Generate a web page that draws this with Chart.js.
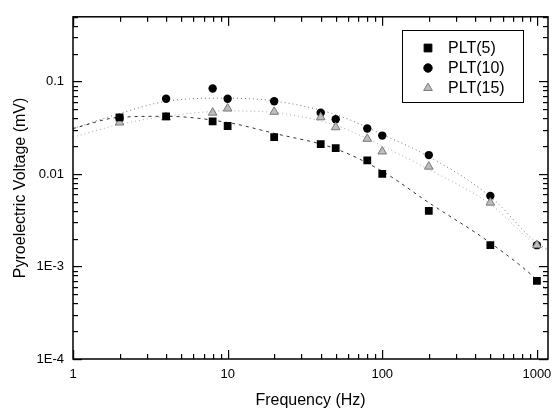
<!DOCTYPE html>
<html>
<head>
<meta charset="utf-8">
<script src="https://cdn.jsdelivr.net/npm/chart.js@4/dist/chart.umd.min.js"></script>
<style>
  body { margin: 0; background: #fff; }
  #wrap { width: 556px; height: 414px; position: relative; }
</style>
</head>
<body>
<div id="wrap"><canvas id="pyroChart"></canvas></div>
<script>
// measured points (Hz, mV)
const freqs = [2, 4, 8, 10, 20, 40, 50, 80, 100, 200, 500, 1000];
const plt5  = [0.041, 0.042, 0.037, 0.033, 0.025, 0.021, 0.019, 0.014, 0.010, 0.0040, 0.0017, 0.00070];
const plt10 = [0.040, 0.065, 0.084, 0.065, 0.061, 0.046, 0.039, 0.031, 0.026, 0.016, 0.0058, 0.0017];
const plt15 = [0.036, 0.041, 0.046, 0.051, 0.047, 0.041, 0.032, 0.024, 0.0175, 0.012, 0.0049, 0.0017];

// fitted curves
const fitFreqs = [1, 2, 4, 10, 20, 50, 100, 200, 500, 1000, 1180];
const fit5  = [0.031, 0.041, 0.042, 0.036, 0.0275, 0.0187, 0.0107, 0.0049, 0.0018, 0.00072, 0.00054];
const fit10 = [0.031, 0.045, 0.061, 0.066, 0.0615, 0.0438, 0.0268, 0.0154, 0.0057, 0.0018, 0.00153];
const fit15 = [0.025, 0.0343, 0.042, 0.048, 0.046, 0.0335, 0.0201, 0.0112, 0.0047, 0.00170, 0.00149];

const seriesNames = ['PLT(5)', 'PLT(10)', 'PLT(15)'];
const xTickValues = [1, 10, 100, 1000];
const xTickLabels = ['1', '10', '100', '1000'];
const yTickValues = [1e-4, 1e-3, 0.01, 0.1];
const yTickLabels = ['1E-4', '1E-3', '0.01', '0.1'];

const FONT = "'Liberation Sans', Arial, Helvetica, sans-serif";

function pts(xs, ys) { return xs.map((x, i) => ({ x: x, y: ys[i] })); }

function labelFor(v, vals, labels) {
    for (let i = 0; i < vals.length; i++) {
        if (Math.abs(Math.log10(v) - Math.log10(vals[i])) < 1e-6) return labels[i];
    }
    return '';
}

// 1..9 x 10^n inside the scale range
function logMarks(scale) {
    const out = [];
    const lo = Math.floor(Math.log10(scale.min)), hi = Math.ceil(Math.log10(scale.max));
    for (let d = lo; d <= hi; d++) {
        for (let k = 1; k <= 9; k++) {
            const v = k * Math.pow(10, d);
            if (v >= scale.min * 0.999 && v <= scale.max * 1.001) out.push({ v: v, major: k === 1 });
        }
    }
    return out;
}

// inward ticks on all four sides + box
const frameTicks = {
    id: 'frameTicks',
    afterDraw(chart) {
        const ctx = chart.ctx, a = chart.chartArea;
        const xs = chart.scales.x, ys = chart.scales.y;
        ctx.save();
        ctx.fillStyle = '#000';
        logMarks(xs).forEach(m => {
            const px = Math.round(xs.getPixelForValue(m.v));
            const len = m.major ? 9 : 5;
            ctx.fillRect(px, a.bottom - len, 1.2, len);
            ctx.fillRect(px, a.top, 1.2, len);
        });
        logMarks(ys).forEach(m => {
            const py = Math.round(ys.getPixelForValue(m.v));
            const len = m.major ? 9 : 5;
            ctx.fillRect(a.left, py, len, 1.2);
            ctx.fillRect(a.right - len, py, len, 1.2);
        });
        ctx.setLineDash([]);
        ctx.strokeStyle = '#000';
        ctx.lineWidth = 1.5;
        ctx.strokeRect(a.left, a.top, a.right - a.left, a.bottom - a.top);
        ctx.restore();
    }
};

// boxed legend inside the plot, upper right
const boxLegend = {
    id: 'boxLegend',
    afterDraw(chart) {
        const ctx = chart.ctx;
        const order = [0, 2, 1]; // dataset index for PLT(5), PLT(10), PLT(15)
        ctx.save();
        ctx.setLineDash([]);
        ctx.fillStyle = '#fff';
        ctx.fillRect(402, 30, 121, 72);
        ctx.strokeStyle = '#000';
        ctx.lineWidth = 1;
        ctx.strokeRect(402.5, 30.5, 121, 72);
        ctx.font = '16px ' + FONT;
        ctx.textBaseline = 'middle';
        order.forEach((di, row) => {
            const ds = chart.data.datasets[di];
            const y = 48 + row * 20;
            ctx.fillStyle = ds.pointBackgroundColor;
            ctx.strokeStyle = ds.pointBorderColor;
            ctx.lineWidth = 1;
            Chart.helpers.drawPoint(ctx, { pointStyle: ds.pointStyle, radius: ds.pointRadius, borderWidth: 1 }, 428, y);
            ctx.fillStyle = '#000';
            ctx.fillText(seriesNames[row], 448, y + 1);
        });
        ctx.restore();
    }
};

new Chart(document.getElementById('pyroChart'), {
    type: 'scatter',
    data: {
        datasets: [
            { label: seriesNames[0], data: pts(freqs, plt5), pointStyle: 'rect', pointRadius: 5.5,
              pointBackgroundColor: '#000', pointBorderColor: '#000', borderWidth: 0, showLine: false },
            { label: seriesNames[2], data: pts(freqs, plt15), pointStyle: 'triangle', pointRadius: 5,
              pointBackgroundColor: '#bdbdbd', pointBorderColor: '#7a7a7a', borderWidth: 1, showLine: false },
            { label: seriesNames[1], data: pts(freqs, plt10), pointStyle: 'circle', pointRadius: 4.2,
              pointBackgroundColor: '#000', pointBorderColor: '#000', borderWidth: 0, showLine: false },
            { label: 'fit5', data: pts(fitFreqs, fit5), showLine: true, pointRadius: 0, borderColor: '#333',
              borderWidth: 1, borderDash: [3, 4], cubicInterpolationMode: 'monotone' },
            { label: 'fit10', data: pts(fitFreqs, fit10), showLine: true, pointRadius: 0, borderColor: '#777',
              borderWidth: 1, borderDash: [1, 3], cubicInterpolationMode: 'monotone' },
            { label: 'fit15', data: pts(fitFreqs, fit15), showLine: true, pointRadius: 0, borderColor: '#aaa',
              borderWidth: 1, borderDash: [1, 3], cubicInterpolationMode: 'monotone' }
        ]
    },
    options: {
        responsive: true,
        maintainAspectRatio: false,
        animation: false,
        layout: { padding: { left: 0, right: 7, top: 9, bottom: 0 } },
        plugins: { legend: { display: false }, tooltip: { enabled: false } },
        scales: {
            x: {
                type: 'logarithmic', min: 1, max: 1180,
                grid: { display: false, drawTicks: false },
                border: { display: false },
                ticks: {
                    autoSkip: false, maxRotation: 0, padding: 8, color: '#000',
                    font: { family: FONT, size: 13 },
                    callback: v => labelFor(v, xTickValues, xTickLabels)
                },
                title: { display: true, text: 'Frequency (Hz)', color: '#000',
                         font: { family: FONT, size: 16 }, padding: { top: 0, bottom: 4 } },
                afterFit: s => { s.height = 55; }
            },
            y: {
                type: 'logarithmic', min: 1e-4, max: 0.5,
                grid: { display: false, drawTicks: false },
                border: { display: false },
                ticks: {
                    autoSkip: false, padding: 9, color: '#000',
                    font: { family: FONT, size: 13 },
                    callback: v => labelFor(v, yTickValues, yTickLabels)
                },
                title: { display: true, text: 'Pyroelectric Voltage (mV)', color: '#000',
                         font: { family: FONT, size: 16 }, padding: { top: 11, bottom: 0 } },
                afterFit: s => { s.width = 73; }
            }
        }
    },
    plugins: [frameTicks, boxLegend]
});
</script>
</body>
</html>
